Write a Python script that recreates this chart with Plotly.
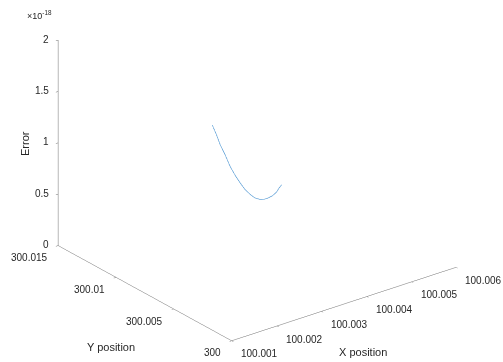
import plotly.graph_objects as go

# trajectory data
x_pos = [100.003126, 100.003180, 100.003237, 100.003309, 100.003381, 100.003453,
         100.003525, 100.003597, 100.003669, 100.003741, 100.003813, 100.003871,
         100.003932, 100.003993, 100.004054, 100.004087, 100.004126]
y_pos = [300.009924, 300.009814, 300.009694, 300.009544, 300.009395, 300.009246,
         300.009096, 300.008946, 300.008797, 300.008647, 300.008499, 300.008378,
         300.008250, 300.008124, 300.007998, 300.007929, 300.007849]
error_e18 = [1.179, 1.088, 0.995, 0.885, 0.775, 0.686, 0.613, 0.549, 0.497,
             0.465, 0.450, 0.448, 0.459, 0.482, 0.515, 0.550, 0.585]  # x 1e-18

x_ticks = [100.001, 100.002, 100.003, 100.004, 100.005, 100.006]
y_ticks = [300, 300.005, 300.01, 300.015]
z_ticks = [0, 0.5, 1, 1.5, 2]

FONT = "Liberation Sans, Arial, sans-serif"
TXT = "#262626"
LINE = "#707070"

fig = go.Figure()
fig.add_trace(go.Scatter3d(
    x=x_pos, y=y_pos, z=error_e18, mode="lines",
    line=dict(color="#4a93d0", width=1.2), showlegend=False, hoverinfo="skip"))

def ax(rng, vals):
    return dict(range=rng, tickvals=vals, title=dict(text=""),
                showgrid=False, zeroline=False, showbackground=False,
                showline=True, linecolor=LINE, linewidth=1,
                ticks="outside", ticklen=3, tickcolor=LINE,
                showticklabels=False, showspikes=False, autorange=False)

tf = dict(family=FONT, size=10, color=TXT)
scene_ann = []
for v in x_ticks:
    scene_ann.append(dict(x=v, y=300, z=0, text=f"{v:g}", showarrow=False,
                          xanchor="left", yanchor="middle", xshift=7, yshift=-13, font=tf))
for v in y_ticks:
    scene_ann.append(dict(x=100.001, y=v, z=0, text=f"{v:g}", showarrow=False,
                          xanchor="right", yanchor="middle", xshift=-9, yshift=-12, font=tf))
for v in z_ticks:
    scene_ann.append(dict(x=100.001, y=300.015, z=v, text=f"{v:g}", showarrow=False,
                          xanchor="right", yanchor="middle", xshift=-8, yshift=1, font=tf))

k = 1.567
view = (-0.5539, -0.7168, 0.4238)
ctr = (-0.0261, 0.02015, -0.1668)
fig.update_layout(
    width=503, height=362, margin=dict(l=0, r=0, t=0, b=0),
    paper_bgcolor="white",
    scene=dict(
        domain=dict(x=[0, 1.0], y=[0, 1.0]),
        xaxis=ax([100.001, 100.006], x_ticks),
        yaxis=ax([300, 300.015], y_ticks),
        zaxis=ax([0, 2], z_ticks),
        aspectmode="manual", aspectratio=dict(x=k, y=k, z=0.8 * k),
        camera=dict(projection=dict(type="orthographic"),
                    eye=dict(x=view[0] * 2 + ctr[0], y=view[1] * 2 + ctr[1], z=view[2] * 2 + ctr[2]),
                    up=dict(x=0, y=0, z=1), center=dict(x=ctr[0], y=ctr[1], z=ctr[2])),
        annotations=scene_ann,
    ),
    annotations=[
        dict(text="X position", x=363 / 503, y=1 - 352 / 362, xref="paper", yref="paper",
             xanchor="center", yanchor="middle",
             showarrow=False, font=dict(family=FONT, size=11, color=TXT)),
        dict(text="Y position", x=111 / 503, y=1 - 347 / 362, xref="paper", yref="paper",
             xanchor="center", yanchor="middle",
             showarrow=False, font=dict(family=FONT, size=11, color=TXT)),
        dict(text="Error", x=25 / 503, y=1 - 144 / 362, xref="paper", yref="paper",
             xanchor="center", yanchor="middle",
             showarrow=False, textangle=-90, font=dict(family=FONT, size=11, color=TXT)),
        dict(text="×10<sup>-18</sup>", x=39 / 503, y=1 - 15 / 362, xref="paper", yref="paper",
             xanchor="center", yanchor="middle",
             showarrow=False, font=dict(family=FONT, size=9, color=TXT)),
    ],
)

fig.write_html("out.html")
